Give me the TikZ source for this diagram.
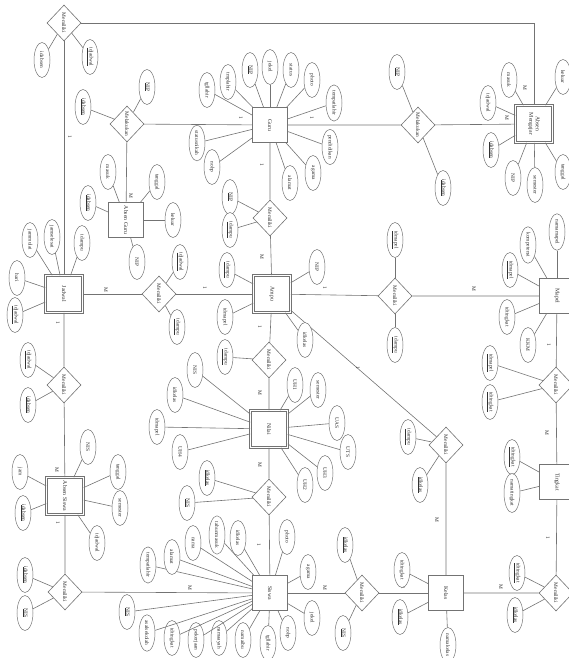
\documentclass[tikz,border=0pt]{standalone}
\usepackage{fontspec}
\setmainfont{Liberation Serif}
\usetikzlibrary{shapes.geometric}
\colorlet{erline}{black!55}
\colorlet{ertext}{black!80}

\begin{document}
\begin{tikzpicture}[x=1pt, y=-1pt, font=\fontsize{5.4}{6}\selectfont, text=ertext,
  entity/.style={draw=erline, line width=0.6pt, rectangle, minimum size=35pt,
    inner sep=1pt, rotate=-90, fill=white, align=center,
    font=\fontsize{5.8}{6.4}\selectfont},
  weak/.style={entity, double, double distance=1.6pt, minimum size=37pt},
  rel/.style={draw=erline, line width=0.6pt, diamond, minimum width=36pt,
    minimum height=34pt, inner sep=0pt, rotate=-90, fill=white},
  attr/.style={draw=erline, line width=0.5pt, ellipse, minimum width=35pt,
    minimum height=16pt, inner sep=0.5pt, rotate=-90, fill=white},
  card/.style={rotate=-90, inner sep=0pt},
  link/.style={draw=erline, line width=0.6pt}]
  \useasboundingbox (0,0) rectangle (569,658);
  \clip (0,0) rectangle (569,658);

  % caption, cut off at the top
  \node[anchor=base west, inner sep=0pt, font=\fontsize{23}{23}\selectfont,
    text=black] (cap) at (-22,-11) {Gambar 4.7) ERD (Entity Relationship Diagram)};

  % entities
  \node[entity] (guru) at (270,125) {Guru};
  \node[entity] (absguru) at (126,220) {Absen Guru};
  \node[weak] (absmgj) at (534,124) {Absen\\Mengajar};
  \node[weak] (jadwal) at (64,294) {Jadwal};
  \node[weak] (ampu) at (272,294) {Ampu};
  \node[entity] (mapel) at (557,296) {Mapel};
  \node[weak] (nilai) at (269,429) {Nilai};
  \node[entity] (tingkat) at (557,482) {Tingkat};
  \node[weak] (abssiswa) at (65,496) {Absen Siswa};
  \node[entity] (siswa) at (270,593) {Siswa};
  \node[entity] (kelas) at (446,593) {Kelas};

  % relationships
  \node[rel] (rJadMgj) at (64,23) {Memiliki};
  \node[rel] (rGuruAbs) at (127,124) {Melakukan};
  \node[rel] (rGuruMgj) at (418,125) {Melakukan};
  \node[rel] (rGuruAmpu) at (270,218) {Memiliki};
  \node[rel] (rJadAmpu) at (159,294) {Memiliki};
  \node[rel] (rAmpuMapel) at (395,296) {Memiliki};
  \node[rel] (rAmpuNilai) at (269,360) {Memiliki};
  \node[rel] (rJadSiswa) at (64,385) {Memiliki};
  \node[rel] (rMapelTkt) at (556,385) {Memiliki};
  \node[rel] (rAmpuKelas) at (446,445) {Memiliki};
  \node[rel] (rNilaiSiswa) at (269,497) {Memiliki};
  \node[rel] (rAbsSiswa) at (65,592) {Memiliki};
  \node[rel] (rKelasSiswa) at (362,593) {Memiliki};
  \node[rel] (rTktKelas) at (556,593) {Memiliki};

  % relationship lines
  \draw[link] (rJadMgj) -| (absmgj);
  \draw[link] (rJadMgj) -- (jadwal);
  \draw[link] (guru) -- (rGuruAbs) -- (absguru);
  \draw[link] (guru) -- (rGuruMgj) -- (absmgj);
  \draw[link] (guru) -- (rGuruAmpu) -- (ampu);
  \draw[link] (jadwal) -- (rJadAmpu) -- (ampu);
  \draw[link] (ampu) -- (rAmpuMapel) -- (mapel);
  \draw[link] (ampu) -- (rAmpuNilai) -- (nilai);
  \draw[link] (ampu) -- (rAmpuKelas) -- (kelas);
  \draw[link] (jadwal) -- (rJadSiswa) -- (abssiswa);
  \draw[link] (mapel) -- (rMapelTkt) -- (tingkat);
  \draw[link] (tingkat) -- (rTktKelas) -- (kelas);
  \draw[link] (kelas) -- (rKelasSiswa) -- (siswa);
  \draw[link] (nilai) -- (rNilaiSiswa) -- (siswa);
  \draw[link] (siswa) -- (rAbsSiswa) -- (abssiswa);

  % cardinalities
  \foreach \c/\x/\y/\t in {c1/70/137/1, c2/525/88/M, c3/131/196/M, c4/241/118/1,
      c5/312/118/1, c6/507/118/M, c7/262/165/1, c8/262/257/M, c9/106/290/M,
      c10/205/288/1, c11/325/288/1, c12/474/289/M, c13/260/327/1, c14/260/393/M,
      c15/358/368/1, c16/437/520/M, c17/549/345/1, c18/547/433/M, c19/548/538/1,
      c20/501/587/M, c21/403/588/1, c22/325/588/M, c23/260/465/M, c24/259/545/1,
      c25/190/588/M, c26/58/523/1, c27/58/323/1, c28/57/470/M}
    \node[card] (\c) at (\x,\y) {\t};

  % attributes: relationship Jadwal - Absen Mengajar
  \foreach \a/\x/\y/\t in {a1/42/60/idabsen, a2/90/57/\underline{idjadwal}} {
    \node[attr] (\a) at (\x,\y) {\t};
    \draw[link] (\a) -- (rJadMgj);
  }
  % Melakukan (Absen Guru)
  \foreach \a/\x/\y/\t in {a3/83/107/\underline{idabsen}, a4/147/87/\underline{NIP}} {
    \node[attr] (\a) at (\x,\y) {\t};
    \draw[link] (\a) -- (rGuruAbs);
  }
  % Absen Guru
  \foreach \a/\x/\y/\t in {a5/108/172/masuk, a6/157/182/tanggal,
      a7/88/203/\underline{idabsen}, a8/173/220/keluar, a9/137/262/NIP} {
    \node[attr] (\a) at (\x,\y) {\t};
    \draw[link] (\a) -- (absguru);
  }
  % Guru
  \foreach \a/\x/\y/\t in {g1/207/90/tgllahir, g2/228/82/tmplahir,
      g3/250/70/\underline{NIP}, g4/270/67/jekel, g5/291/70/status,
      g6/312/80/photo, g7/334/103/tempatlahir, g8/330/147/pendidikan,
      g9/313/173/agama, g10/290/183/alamat, g11/197/143/statusnikah,
      g12/212/167/nohp} {
    \node[attr] (\a) at (\x,\y) {\t};
    \draw[link] (\a) -- (guru);
  }
  % Melakukan (Absen Mengajar)
  \foreach \a/\x/\y/\t in {a10/397/72/\underline{NIP}, a11/443/188/\underline{idabsen}} {
    \node[attr] (\a) at (\x,\y) {\t};
    \draw[link] (\a) -- (rGuruMgj);
  }
  % Absen Mengajar
  \foreach \a/\x/\y/\t in {m1/509/80/masuk, m2/488/103/idjadwal, m3/563/77/keluar,
      m4/491/150/\underline{idabsen}, m5/513/178/NIP, m6/535/185/semester,
      m7/563/172/tanggal} {
    \node[attr] (\a) at (\x,\y) {\t};
    \draw[link] (\a) -- (absmgj);
  }
  % Jadwal
  \foreach \a/\x/\y/\t in {j1/30/240/jammulai, j2/52/237/jamselesai,
      j3/82/243/idampu, j4/17/278/hari, j5/15/315/\underline{idjadwal}} {
    \node[attr] (\a) at (\x,\y) {\t};
    \draw[link] (\a) -- (jadwal);
  }
  \foreach \a/\x/\y/\t in {a12/180/262/\underline{idjadwal}, a13/177/327/\underline{idampu}} {
    \node[attr] (\a) at (\x,\y) {\t};
    \draw[link] (\a) -- (rJadAmpu);
  }
  \foreach \a/\x/\y/\t in {a14/230/197/\underline{NIP}, a15/230/230/\underline{idampu}} {
    \node[attr] (\a) at (\x,\y) {\t};
    \draw[link] (\a) -- (rGuruAmpu);
  }
  % Ampu
  \foreach \a/\x/\y/\t in {p1/227/270/\underline{idampu}, p2/317/267/NIP,
      p3/225/317/idmapel, p4/305/340/idkelas} {
    \node[attr] (\a) at (\x,\y) {\t};
    \draw[link] (\a) -- (ampu);
  }
  \node[attr] (a16) at (225,357) {\underline{idampu}};
  \draw[link] (a16) -- (rAmpuNilai);
  \foreach \a/\x/\y/\t in {a17/395/240/\underline{idmapel}, a18/395/345/\underline{idampu}} {
    \node[attr] (\a) at (\x,\y) {\t};
    \draw[link] (\a) -- (rAmpuMapel);
  }
  % Mapel
  \foreach \a/\x/\y/\t in {k1/510/270/\underline{idmapel}, k2/528/245/kompetensi,
      k3/557/232/namamapel, k4/507/317/idtingkat, k5/528/345/KKM} {
    \node[attr] (\a) at (\x,\y) {\t};
    \draw[link] (\a) -- (mapel);
  }
  \foreach \a/\x/\y/\t in {a19/490/363/\underline{idmapel}, a20/490/402/\underline{idtingkat}} {
    \node[attr] (\a) at (\x,\y) {\t};
    \draw[link] (\a) -- (rMapelTkt);
  }
  % Tingkat
  \foreach \a/\x/\y/\t in {t1/512/457/\underline{idtingkat}, t2/512/493/namatingkat} {
    \node[attr] (\a) at (\x,\y) {\t};
    \draw[link] (\a) -- (tingkat);
  }
  \foreach \a/\x/\y/\t in {a21/408/437/\underline{idampu}, a22/420/485/\underline{idkelas}} {
    \node[attr] (\a) at (\x,\y) {\t};
    \draw[link] (\a) -- (rAmpuKelas);
  }
  % Kelas
  \foreach \a/\x/\y/\t in {e1/402/570/idtingkat, e2/400/617/\underline{idkelas},
      e3/448/645/namakelas} {
    \node[attr] (\a) at (\x,\y) {\t};
    \draw[link] (\a) -- (kelas);
  }
  \foreach \a/\x/\y/\t in {a23/517/573/\underline{idtingkat}, a24/515/615/\underline{idkelas}} {
    \node[attr] (\a) at (\x,\y) {\t};
    \draw[link] (\a) -- (rTktKelas);
  }
  \foreach \a/\x/\y/\t in {a25/345/545/\underline{idkelas}, a26/343/633/\underline{NIS}} {
    \node[attr] (\a) at (\x,\y) {\t};
    \draw[link] (\a) -- (rKelasSiswa);
  }
  % Nilai
  \foreach \a/\x/\y/\t in {n1/295/385/UH1, n2/318/390/semester, n3/337/423/UAS,
      n4/348/452/UTS, n5/325/473/UH3, n6/305/485/UH2, n7/195/370/NIS,
      n8/175/395/idkelas, n9/157/427/idmapel, n10/180/452/UH4} {
    \node[attr] (\a) at (\x,\y) {\t};
    \draw[link] (\a) -- (nilai);
  }
  \foreach \a/\x/\y/\t in {a27/207/478/\underline{idkelas}, a28/187/503/\underline{NIS}} {
    \node[attr] (\a) at (\x,\y) {\t};
    \draw[link] (\a) -- (rNilaiSiswa);
  }
  % Siswa
  \foreach \a/\x/\y/\t in {s1/148/565/tempatlahir, s2/172/557/alamat,
      s3/193/543/nama, s4/217/535/tahunmasuk, s5/238/538/idkelas,
      s6/287/537/photo, s7/308/572/agama, s8/312/618/jekel, s9/288/633/nohp,
      s10/268/643/tgllahir, s11/243/640/namaibu, s12/219/638/namaayah,
      s13/196/640/pekerjaan, s14/172/638/idtingkat, s15/147/633/asalsekolah,
      s16/127/612/\underline{NIS}} {
    \node[attr] (\a) at (\x,\y) {\t};
    \draw[link] (\a) -- (siswa);
  }
  \foreach \a/\x/\y/\t in {a29/25/575/\underline{idabsen}, a30/25/613/\underline{NIS}} {
    \node[attr] (\a) at (\x,\y) {\t};
    \draw[link] (\a) -- (rAbsSiswa);
  }
  % Absen Siswa
  \foreach \a/\x/\y/\t in {b1/20/472/jam, b2/23/513/\underline{idabsen},
      b3/88/447/NIS, b4/118/472/tanggal, b5/120/508/semester, b6/97/543/idjadwal} {
    \node[attr] (\a) at (\x,\y) {\t};
    \draw[link] (\a) -- (abssiswa);
  }
  \foreach \a/\x/\y/\t in {a31/28/360/\underline{idjadwal}, a32/28/405/\underline{idabsen}} {
    \node[attr] (\a) at (\x,\y) {\t};
    \draw[link] (\a) -- (rJadSiswa);
  }
\end{tikzpicture}
\end{document}
